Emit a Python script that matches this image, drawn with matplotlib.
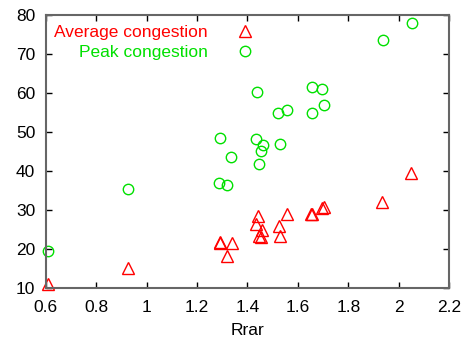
import matplotlib.pyplot as plt

# данные
avg_x = [0.609, 0.928, 1.291, 1.290, 1.317, 1.337, 1.442, 1.435, 1.459, 1.447,
         1.453, 1.524, 1.529, 1.558, 1.653, 1.657, 1.695, 1.705, 1.934, 2.049]
avg_y = [10.95, 15.2, 21.9, 21.5, 18.2, 21.5, 28.5, 26.4, 25.0, 23.4,
         23.2, 25.9, 23.3, 28.9, 29.0, 28.9, 30.4, 30.7, 32.1, 39.6]

peak_x = [0.609, 0.928, 1.288, 1.292, 1.317, 1.336, 1.435, 1.439, 1.444, 1.455,
          1.460, 1.522, 1.528, 1.557, 1.654, 1.654, 1.694, 1.702, 1.936, 2.051]
peak_y = [19.6, 35.4, 37.0, 48.5, 36.3, 43.7, 48.3, 60.3, 41.9, 45.2,
          46.7, 54.8, 46.8, 55.6, 61.5, 54.95, 61.0, 56.9, 73.6, 78.0]

x_ticks = [0.6, 0.8, 1, 1.2, 1.4, 1.6, 1.8, 2, 2.2]
x_labels = ["0.6", "0.8", "1", "1.2", "1.4", "1.6", "1.8", "2", "2.2"]
y_ticks = [10, 20, 30, 40, 50, 60, 70, 80]

plt.rcParams['font.family'] = ['Liberation Sans', 'DejaVu Sans']
fs = 12.5

fig = plt.figure(figsize=(4.61, 3.41), dpi=100)
ax = fig.add_axes([0.0991, 0.1554, 0.8755, 0.8006])

ax.plot(avg_x, avg_y, linestyle='none', marker='^', markersize=8,
        markerfacecolor='none', markeredgecolor='#ff0000', markeredgewidth=1.0,
        label="Average congestion", clip_on=False)
ax.plot(peak_x, peak_y, linestyle='none', marker='o', markersize=7.5,
        markerfacecolor='none', markeredgecolor='#00e000', markeredgewidth=1.0,
        label="Peak congestion", clip_on=False)

ax.set_xlim(0.6, 2.2)
ax.set_ylim(10, 80)
ax.set_xticks(x_ticks)
ax.set_xticklabels(x_labels)
ax.set_yticks(y_ticks)
ax.tick_params(direction='in', top=True, right=True, length=4, width=1,
               labelsize=fs, colors='black')
ax.tick_params(axis='x', pad=8.5)
ax.tick_params(axis='y', pad=7.5)
for sp in ax.spines.values():
    sp.set_color('#666666')
    sp.set_linewidth(1.5)

ax.set_xlabel("Rrar", fontsize=fs, labelpad=6)

leg = ax.legend(loc='upper left', markerfirst=False, frameon=False,
                fontsize=fs, handlelength=1.0, handletextpad=1.65,
                labelspacing=0.25, borderaxespad=0.3, borderpad=0.2,
                bbox_to_anchor=(0.0, 0.995))
leg.get_texts()[0].set_color('#ff0000')
leg.get_texts()[1].set_color('#00e000')

fig.savefig("out.png", dpi=100)
plt.close(fig)
